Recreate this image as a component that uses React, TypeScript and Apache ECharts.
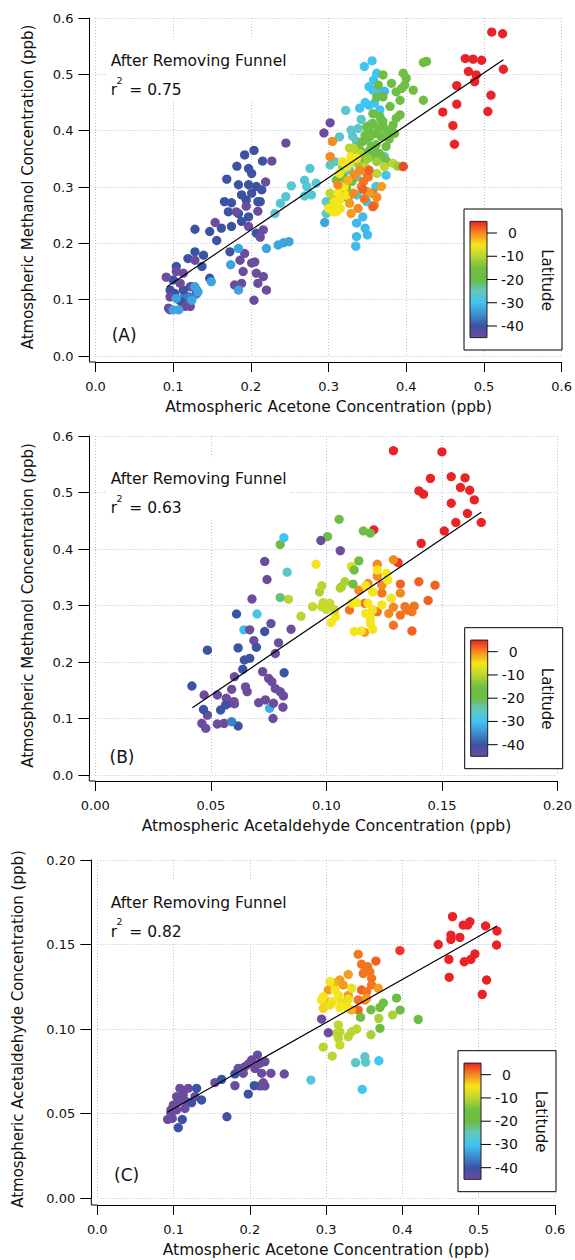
import React, { useEffect, useRef } from "react";
import * as echarts from "echarts";

const FONT = '"DejaVu Sans", Verdana, sans-serif';
const TXT = "#111";

// Latitude colour table, evenly spaced from -45 (bottom) to 5 (top)
const LAT_MIN = -45;
const LAT_MAX = 5;
const LAT_COLORS = [
  "#6b4c9d", "#3c53a4", "#3d8ed0", "#3fc5f0", "#63c7bf", "#6abd45",
  "#72bf44", "#bcd631", "#f5e51a", "#f58a1f", "#ea2327",
];
const COLORBAR_TICKS = [0, -10, -20, -30, -40];

const xTitles = [
  "Atmospheric Acetone Concentration (ppb)",
  "Atmospheric Acetaldehyde Concentration (ppb)",
  "Atmospheric Acetone Concentration (ppb)",
];
const yTitles = [
  "Atmospheric Methanol Concentration (ppb)",
  "Atmospheric Methanol Concentration (ppb)",
  "Atmospheric Acetaldehyde Concentration (ppb)",
];
const xMax = [0.6, 0.2, 0.6];
const xStep = [0.1, 0.05, 0.1];
const xDecimals = [1, 2, 1];
const yMax = [0.6, 0.6, 0.2];
const yStep = [0.1, 0.1, 0.05];
const yDecimals = [1, 1, 2];
const panelLabels = ["(A)", "(B)", "(C)"];
const r2Values = ["0.75", "0.63", "0.82"];
const noteText = "After Removing Funnel";

// [acetone, methanol, latitude]
const panelA: number[][] = [
  [0.510,0.575,5],[0.524,0.572,5],[0.476,0.528,5],[0.486,0.527,5],[0.497,0.525,5],[0.480,0.505,5],[0.490,0.499,5],[0.488,0.487,5],[0.525,0.509,5],[0.465,0.480,5],[0.465,0.447,5],[0.447,0.433,5],[0.460,0.409,5],[0.462,0.376,5],[0.505,0.434,5],[0.509,0.463,5],
  [0.107,0.100,-36],[0.115,0.108,-36],[0.121,0.105,-36],[0.130,0.110,-36],[0.118,0.095,-36],
  [0.204,0.365,-40],[0.192,0.357,-40],[0.182,0.337,-40],[0.197,0.333,-40],[0.201,0.324,-40],[0.169,0.314,-40],[0.184,0.304,-40],[0.197,0.304,-40],[0.207,0.301,-40],[0.201,0.289,-40],[0.188,0.286,-40],[0.166,0.274,-40],[0.175,0.272,-40],[0.194,0.277,-40],[0.209,0.274,-40],[0.184,0.253,-40],[0.197,0.247,-40],[0.171,0.256,-40],[0.188,0.239,-40],[0.162,0.227,-40],[0.175,0.230,-40],[0.147,0.221,-40],[0.128,0.225,-40],[0.156,0.205,-40],[0.207,0.218,-40],[0.173,0.185,-40],[0.128,0.185,-40],[0.139,0.179,-40],[0.119,0.173,-40],[0.104,0.159,-40],[0.137,0.159,-40],[0.147,0.138,-40],[0.096,0.117,-40],[0.122,0.123,-40],[0.113,0.117,-40],[0.215,0.346,-40],[0.214,0.295,-40],[0.212,0.274,-40],[0.100,0.135,-40],[0.111,0.096,-40],[0.102,0.111,-40],[0.130,0.117,-40],
  [0.181,0.256,-45],[0.194,0.266,-45],[0.209,0.257,-45],[0.154,0.237,-45],[0.197,0.230,-45],[0.128,0.170,-45],[0.113,0.147,-45],[0.192,0.182,-45],[0.205,0.167,-45],[0.186,0.170,-45],[0.190,0.150,-45],[0.207,0.147,-45],[0.201,0.165,-45],[0.091,0.140,-45],[0.104,0.150,-45],[0.109,0.129,-45],[0.124,0.123,-45],[0.096,0.105,-45],[0.094,0.085,-45],[0.115,0.088,-45],[0.122,0.088,-45],[0.179,0.126,-45],[0.188,0.129,-45],[0.204,0.099,-45],[0.209,0.129,-45],[0.227,0.346,-45],[0.245,0.378,-45],[0.219,0.309,-45],[0.216,0.224,-45],[0.212,0.211,-45],[0.216,0.141,-45],[0.220,0.117,-45],[0.096,0.082,-45],[0.302,0.414,-45],[0.294,0.396,-45],
  [0.184,0.191,-33],[0.174,0.162,-33],[0.149,0.132,-33],[0.132,0.114,-33],[0.128,0.123,-33],[0.104,0.102,-33],[0.124,0.099,-33],[0.107,0.082,-33],[0.184,0.117,-33],[0.220,0.191,-33],[0.235,0.197,-33],[0.242,0.201,-33],[0.249,0.203,-33],[0.100,0.082,-33],
  [0.252,0.302,-27],[0.245,0.283,-27],[0.238,0.271,-27],[0.231,0.253,-27],[0.269,0.312,-27],[0.276,0.333,-27],[0.272,0.301,-27],[0.278,0.286,-27],[0.269,0.284,-27],[0.284,0.307,-27],
  [0.356,0.524,-30],[0.346,0.514,-30],[0.362,0.502,-30],[0.358,0.490,-30],[0.352,0.478,-30],[0.357,0.472,-30],[0.359,0.449,-30],[0.366,0.437,-30],[0.368,0.419,-30],[0.374,0.342,-30],[0.374,0.321,-30],[0.355,0.289,-30],[0.349,0.292,-30],[0.336,0.286,-30],[0.349,0.274,-30],[0.344,0.247,-31],[0.336,0.236,-31],[0.347,0.227,-31],[0.350,0.215,-31],[0.336,0.212,-31],[0.335,0.195,-31],[0.295,0.237,-33],[0.361,0.301,-30],
  [0.340,0.440,-30],[0.352,0.445,-30],[0.347,0.450,-30],[0.365,0.470,-30],[0.372,0.470,-31],
  [0.322,0.436,-26],[0.329,0.401,-26],[0.338,0.404,-26],[0.336,0.381,-26],[0.349,0.384,-26],[0.302,0.339,-26],[0.308,0.345,-26],[0.327,0.330,-26],[0.336,0.318,-26],[0.297,0.274,-26],[0.323,0.312,-26],[0.372,0.354,-26],[0.314,0.389,-26],[0.379,0.401,-26],[0.297,0.253,-26],
  [0.342,0.420,-26],[0.355,0.412,-26],[0.331,0.390,-26],[0.360,0.395,-26],
  [0.422,0.521,-17],[0.426,0.523,-17],[0.370,0.499,-17],[0.381,0.484,-17],[0.396,0.502,-17],[0.400,0.493,-17],[0.398,0.481,-17],[0.394,0.475,-17],[0.387,0.469,-17],[0.364,0.481,-17],[0.370,0.460,-17],[0.409,0.472,-17],[0.422,0.454,-17],[0.392,0.454,-17],[0.362,0.460,-17],[0.379,0.443,-17],[0.392,0.428,-17],[0.387,0.422,-17],[0.370,0.416,-17],[0.357,0.413,-17],[0.349,0.407,-17],[0.364,0.404,-17],[0.377,0.398,-17],[0.353,0.389,-17],[0.344,0.381,-17],[0.361,0.375,-17],[0.351,0.363,-17],[0.358,0.354,-17],[0.368,0.354,-17],[0.396,0.337,-17],[0.340,0.366,-17],[0.332,0.360,-17],[0.319,0.318,-17],[0.310,0.312,-17],[0.314,0.301,-17],[0.323,0.298,-17],[0.318,0.289,-17],[0.306,0.277,-17],[0.344,0.348,-17],[0.355,0.372,-17],[0.338,0.372,-17],[0.368,0.389,-17],[0.374,0.372,-17],
  [0.357,0.430,-17],[0.366,0.425,-17],[0.352,0.400,-17],[0.362,0.395,-17],[0.371,0.405,-17],[0.383,0.410,-17],[0.347,0.392,-17],[0.358,0.365,-17],[0.365,0.360,-17],[0.378,0.385,-17],[0.385,0.395,-17],[0.342,0.355,-17],[0.375,0.345,-17],[0.330,0.310,-17],[0.325,0.280,-17],
  [0.327,0.369,-10],[0.332,0.369,-10],[0.340,0.360,-10],[0.347,0.336,-10],[0.372,0.336,-10],[0.383,0.342,-10],[0.362,0.324,-10],[0.306,0.274,-10],[0.302,0.289,-10],
  [0.350,0.350,-12],[0.337,0.342,-12],[0.362,0.345,-12],[0.389,0.337,-12],[0.318,0.335,-12],
  [0.329,0.354,-5],[0.323,0.336,-5],[0.314,0.324,-5],[0.310,0.256,-5],[0.304,0.262,-5],[0.308,0.274,-5],[0.336,0.351,-5],[0.327,0.342,-5],[0.314,0.277,-5],[0.312,0.289,-5],
  [0.318,0.345,-5],[0.320,0.300,-5],[0.306,0.256,-5],[0.300,0.262,-5],[0.323,0.285,-5],[0.315,0.262,-5],
  [0.305,0.381,0],[0.302,0.354,0],[0.312,0.304,0],[0.368,0.301,-1],[0.359,0.268,0],[0.329,0.253,-1],[0.349,0.324,0],[0.340,0.330,0],[0.357,0.289,1],[0.327,0.271,-1],[0.342,0.301,0],[0.351,0.318,1],[0.332,0.289,0],
  [0.333,0.322,0],[0.345,0.310,1],[0.338,0.262,0],[0.352,0.290,-1],[0.362,0.282,0],[0.325,0.312,-2],[0.346,0.279,1],
  [0.396,0.336,3],[0.352,0.330,2],[0.357,0.265,2],[0.344,0.296,2],
];
const fitA = [[0.092, 0.123], [0.525, 0.526]];

// [acetaldehyde, methanol, latitude]
const panelB: number[][] = [
  [0.129,0.574,5],[0.150,0.572,5],[0.145,0.525,5],[0.154,0.528,5],[0.160,0.526,5],[0.140,0.503,5],[0.142,0.497,5],[0.158,0.509,5],[0.162,0.504,5],[0.164,0.487,5],[0.154,0.481,5],[0.161,0.463,5],[0.156,0.447,5],[0.167,0.447,5],[0.151,0.432,5],[0.141,0.410,5],[0.1205,0.434,5],[0.131,0.376,4],
  [0.140,0.342,2],[0.147,0.336,2],[0.132,0.338,2],[0.144,0.309,2],[0.137,0.255,2],[0.129,0.265,1],[0.129,0.381,0],[0.138,0.299,1],[0.134,0.298,1],[0.122,0.373,0],[0.122,0.352,0],[0.124,0.322,1],[0.110,0.292,1],[0.122,0.289,1],[0.132,0.322,0],[0.127,0.286,0],[0.132,0.283,1],[0.129,0.297,0],[0.135,0.292,1],[0.137,0.289,1],[0.1165,0.304,1],[0.114,0.327,0],[0.1165,0.2525,-1],[0.118,0.339,0],[0.124,0.336,0],
  [0.0955,0.373,-5],[0.122,0.363,-5],[0.126,0.357,-5],[0.117,0.335,-5],[0.120,0.324,-5],[0.128,0.313,-5],[0.111,0.304,-5],[0.113,0.305,-5],[0.118,0.304,-5],[0.124,0.301,-5],[0.120,0.292,-5],[0.117,0.286,-5],[0.119,0.277,-5],[0.119,0.268,-5],[0.120,0.258,-5],[0.115,0.255,-5],[0.112,0.254,-5],[0.102,0.270,-5],[0.104,0.280,-5],[0.1108,0.369,-7],[0.1265,0.345,-5],
  [0.094,0.298,-9],[0.098,0.298,-9],[0.100,0.293,-9],[0.1015,0.304,-9],[0.0986,0.305,-9],[0.089,0.281,-10],[0.0836,0.311,-10],[0.097,0.324,-11],[0.098,0.335,-10],[0.1065,0.333,-11],[0.108,0.342,-11],[0.106,0.331,-11],[0.1036,0.292,-9],
  [0.1055,0.4525,-17],[0.1005,0.422,-17],[0.116,0.432,-17],[0.119,0.428,-17],[0.114,0.379,-17],[0.112,0.363,-17],[0.1115,0.338,-16],[0.080,0.408,-20],[0.080,0.314,-22],
  [0.083,0.359,-26],[0.0816,0.420,-30],[0.070,0.285,-29],[0.0643,0.257,-31],[0.0754,0.118,-32],
  [0.0976,0.415,-45],[0.106,0.397,-45],[0.0733,0.378,-45],[0.0743,0.346,-45],[0.0678,0.3115,-45],[0.076,0.268,-45],[0.0847,0.258,-45],[0.0668,0.257,-45],[0.0686,0.238,-45],[0.0793,0.234,-45],[0.0779,0.215,-45],[0.0724,0.183,-45],[0.0750,0.171,-45],[0.0764,0.165,-45],[0.0779,0.153,-45],[0.080,0.1475,-45],[0.0814,0.140,-45],[0.0812,0.120,-45],[0.0769,0.100,-45],[0.0707,0.128,-45],[0.0736,0.133,-45],[0.0771,0.127,-45],[0.0471,0.1416,-45],[0.0528,0.1416,-45],[0.0461,0.0914,-45],[0.0478,0.0826,-45],[0.0485,0.106,-45],[0.0528,0.0903,-45],[0.0557,0.0914,-45],[0.0590,0.1516,-45],[0.0602,0.174,-45],[0.0650,0.156,-45],[0.0657,0.1475,-45],[0.0567,0.136,-45],[0.0578,0.127,-45],[0.0600,0.130,-45],[0.0602,0.126,-45],
  [0.0611,0.285,-40],[0.0733,0.254,-40],[0.0618,0.225,-40],[0.0485,0.221,-40],[0.0697,0.226,-40],[0.0817,0.181,-40],[0.0668,0.2065,-40],[0.0645,0.2035,-40],[0.0638,0.187,-40],[0.0418,0.1575,-40],[0.0468,0.116,-40],[0.0542,0.115,-40],[0.0564,0.124,-40],[0.0618,0.0867,-40],[0.059,0.0944,-36],
];
const fitB = [[0.042, 0.119], [0.167, 0.465]];

// [acetone, acetaldehyde, latitude]
const panelC: number[][] = [
  [0.4657,0.1665,5],[0.4797,0.1615,5],[0.4884,0.1635,5],[0.4855,0.1615,5],[0.509,0.161,5],[0.524,0.158,5],[0.4635,0.1556,5],[0.4753,0.1542,5],[0.447,0.150,5],[0.4635,0.153,5],[0.5234,0.1497,5],[0.4609,0.1412,5],[0.481,0.1398,5],[0.4897,0.1412,5],[0.495,0.1444,5],[0.4613,0.1306,5],[0.5103,0.129,5],[0.5046,0.1205,5],[0.3967,0.1464,4],
  [0.342,0.1442,1],[0.3652,0.1402,2],[0.3464,0.1383,1],[0.3543,0.1369,1],[0.3486,0.1329,1],[0.3573,0.1339,1],[0.3595,0.130,1],[0.3464,0.1231,2],[0.353,0.1221,1],[0.342,0.1172,1],[0.3508,0.1172,1],[0.3595,0.1260,1],[0.342,0.1112,2],
  [0.329,0.1323,-1],[0.318,0.129,-1],[0.3115,0.1274,-2],[0.3028,0.1231,-1],[0.3224,0.1260,-1],[0.3683,0.1241,-1],[0.353,0.1181,-1],[0.2984,0.1172,-2],[0.329,0.1199,-1],[0.3333,0.1112,-2],
  [0.305,0.1280,-5],[0.2962,0.1191,-5],[0.294,0.1172,-5],[0.3115,0.1231,-5],[0.316,0.1199,-5],[0.308,0.1162,-5],[0.3202,0.1162,-6],[0.329,0.1176,-6],[0.3333,0.1241,-6],[0.318,0.1128,-5],[0.2962,0.1122,-4],[0.3268,0.1132,-5],[0.305,0.1142,-6],
  [0.316,0.1024,-10],[0.3137,0.0974,-10],[0.318,0.0984,-10],[0.316,0.0945,-10],[0.329,0.0955,-10],[0.3333,0.0984,-10],[0.3399,0.100,-10],[0.2962,0.0893,-10],[0.308,0.084,-10],[0.3587,0.0966,-11],[0.369,0.1063,-11],[0.3871,0.1083,-11],[0.318,0.0905,-9],
  [0.3451,0.1069,-16],[0.3587,0.1114,-17],[0.3705,0.1128,-17],[0.375,0.1154,-17],[0.3923,0.1183,-17],[0.397,0.1112,-17],[0.4207,0.1057,-17],[0.3705,0.1004,-17],
  [0.3508,0.0836,-26],[0.3386,0.0801,-26],[0.3517,0.0803,-26],[0.28,0.0698,-27],
  [0.3691,0.0812,-30],[0.3473,0.0643,-30],
  [0.294,0.1059,-45],[0.3028,0.0978,-45],[0.2451,0.0734,-45],[0.2276,0.0738,-45],[0.21,0.0846,-45],[0.2023,0.0817,-45],[0.2132,0.0797,-45],[0.1935,0.0777,-45],[0.1848,0.0767,-45],[0.1913,0.0738,-45],[0.198,0.0793,-45],[0.2066,0.0767,-45],[0.2197,0.0807,-45],[0.2154,0.0738,-45],[0.1804,0.0665,-45],[0.2176,0.0682,-45],[0.2132,0.0663,-45],[0.2197,0.0663,-45],[0.1542,0.0683,-45],[0.1083,0.0649,-45],[0.1192,0.0649,-45],[0.104,0.060,-45],[0.1127,0.0610,-45],[0.1061,0.0570,-45],[0.117,0.0570,-45],[0.128,0.060,-45],[0.0996,0.0550,-45],[0.0965,0.0521,-45],[0.104,0.0521,-45],[0.1149,0.0530,-45],[0.0922,0.0465,-45],[0.0983,0.0471,-45],[0.0965,0.0501,-45],
  [0.1302,0.0649,-40],[0.1367,0.0580,-40],[0.1236,0.0564,-40],[0.163,0.0702,-40],[0.1804,0.0734,-40],[0.2058,0.0665,-40],[0.1979,0.0615,-40],[0.1114,0.0465,-40],[0.1061,0.0416,-40],[0.1699,0.0481,-40],
];
const fitC = [[0.0917, 0.0507], [0.524, 0.161]];

const panelData = [panelA, panelB, panelC];
const panelFits = [fitA, fitB, fitC];

// layout (pixels)
const grids = [
  { left: 95.5, top: 18, width: 466.5, height: 338 },
  { left: 95.3, top: 436, width: 465.7, height: 339 },
  { left: 97.3, top: 860, width: 457.7, height: 338 },
];
const xOffsets = [6, 6, 7];
const yOffsets = [6, 6, 6];
const yNameGaps = [54, 54, 66];
const noteY = [61, 479.3, 902.7];
const labelPos = [[111.7, 335], [109.5, 756.7], [114, 1175]];
const cbPos = [[464, 209], [464.7, 627.7], [458, 1050.7]];

function colorbar(left: number, top: number): any[] {
  const els: any[] = [];
  const top2bottom = LAT_COLORS.slice().reverse();
  const stops = top2bottom.map((c, i) => ({ offset: i / (top2bottom.length - 1), color: c }));
  els.push({ type: "rect", z: 20, shape: { x: left, y: top, width: 98, height: 141 }, style: { fill: "#fff", stroke: "#000", lineWidth: 1 } });
  const ppu = 93 / 40;
  const y0 = top + 24;
  const barTop = y0 - (LAT_MAX - 0) * ppu;
  const barBottom = y0 + (0 - LAT_MIN) * ppu;
  els.push({
    type: "rect", z: 21,
    shape: { x: left + 6, y: barTop, width: 17, height: barBottom - barTop },
    style: { fill: new echarts.graphic.LinearGradient(0, 0, 0, 1, stops), stroke: "#222", lineWidth: 1 },
  });
  COLORBAR_TICKS.forEach((t) => {
    const y = y0 + (0 - t) * ppu;
    els.push({ type: "line", z: 21, shape: { x1: left + 23, y1: y, x2: left + 33, y2: y }, style: { stroke: "#000", lineWidth: 1 } });
    els.push({ type: "text", z: 21, x: left + 48.5, y, style: { text: String(t), align: "center", verticalAlign: "middle", fontSize: 14, fontFamily: FONT, fill: TXT } });
  });
  els.push({ type: "text", z: 21, x: left + 82.7, y: top + 71, rotation: -Math.PI / 2, style: { text: "Latitude", align: "center", verticalAlign: "middle", fontSize: 15, fontFamily: FONT, fill: TXT } });
  return els;
}

export default function App() {
  const ref = useRef<HTMLDivElement>(null);
  useEffect(() => {
    document.body.style.margin = "0";
    const chart = echarts.init(ref.current!, null, { renderer: "svg" });
    const axisLine = { show: true, onZero: false, lineStyle: { color: "#000", width: 1 } };
    const splitLine = { show: true, lineStyle: { color: "#bdbde6", width: 1, type: [1, 2] } };

    const xAxis = grids.map((_, i) => ({
      type: "value", gridIndex: i, min: 0, max: xMax[i], interval: xStep[i], offset: xOffsets[i],
      axisLine, axisTick: { show: true, inside: false, length: 10, lineStyle: { color: "#000" } },
      axisLabel: { margin: 18, fontSize: 13, fontFamily: FONT, color: TXT, formatter: (v: number) => v.toFixed(xDecimals[i]) },
      splitLine,
      name: xTitles[i], nameLocation: "middle", nameGap: 37,
      nameTextStyle: { fontSize: 15.5, fontFamily: FONT, color: TXT },
    }));
    const yAxis = grids.map((_, i) => ({
      type: "value", gridIndex: i, min: 0, max: yMax[i], interval: yStep[i], offset: yOffsets[i],
      axisLine, axisTick: { show: true, inside: false, length: 11, lineStyle: { color: "#000" } },
      axisLabel: { margin: 16, fontSize: 13, fontFamily: FONT, color: TXT, formatter: (v: number) => v.toFixed(yDecimals[i]) },
      splitLine,
      name: yTitles[i], nameLocation: "middle", nameGap: yNameGaps[i],
      nameTextStyle: { fontSize: 15, fontFamily: FONT, color: TXT },
    }));

    const series: any[] = [];
    panelData.forEach((d, i) => {
      series.push({ type: "scatter", xAxisIndex: i, yAxisIndex: i, data: d, symbolSize: 9.3, itemStyle: { opacity: 1 }, z: 2 });
      series.push({ type: "line", xAxisIndex: i, yAxisIndex: i, data: panelFits[i], symbol: "none", silent: true, lineStyle: { color: "#000", width: 1.2 }, z: 5 });
    });

    const graphic: any[] = [];
    grids.forEach((g, i) => {
      const bottom = g.top + g.height;
      const yx = g.left - yOffsets[i];
      const xy = bottom + xOffsets[i];
      graphic.push({ type: "line", shape: { x1: yx, y1: bottom, x2: yx, y2: xy }, style: { stroke: "#000", lineWidth: 1 } });
      graphic.push({ type: "line", shape: { x1: yx, y1: xy, x2: g.left, y2: xy }, style: { stroke: "#000", lineWidth: 1 } });
      const ty = noteY[i];
      graphic.push({ type: "rect", z: 1, shape: { x: 106, y: ty - 22, width: 184, height: 62 }, style: { fill: "#fff" } });
      graphic.push({ type: "text", z: 10, x: 110.7, y: ty, style: { text: noteText, align: "left", verticalAlign: "middle", fontSize: 15.5, fontFamily: FONT, fill: TXT } });
      graphic.push({ type: "text", z: 10, x: 110.7, y: ty + 29, style: { text: "r", align: "left", verticalAlign: "middle", fontSize: 15.5, fontFamily: FONT, fill: TXT } });
      graphic.push({ type: "text", z: 10, x: 116.5, y: ty + 19, style: { text: "2", align: "left", verticalAlign: "middle", fontSize: 9.5, fontFamily: FONT, fill: TXT } });
      graphic.push({ type: "text", z: 10, x: 129.3, y: ty + 29, style: { text: "= " + r2Values[i], align: "left", verticalAlign: "middle", fontSize: 15.5, fontFamily: FONT, fill: TXT } });
      graphic.push({ type: "text", z: 10, x: labelPos[i][0], y: labelPos[i][1], style: { text: panelLabels[i], align: "left", verticalAlign: "middle", fontSize: 17, fontFamily: FONT, fill: TXT } });
      colorbar(cbPos[i][0], cbPos[i][1]).forEach((e) => graphic.push(e));
    });

    chart.setOption({
      animation: false,
      backgroundColor: "#fff",
      grid: grids.map((g) => ({ ...g, containLabel: false })),
      xAxis,
      yAxis,
      visualMap: [{ type: "continuous", show: false, min: LAT_MIN, max: LAT_MAX, dimension: 2, seriesIndex: [0, 2, 4], inRange: { color: LAT_COLORS } }],
      series,
      graphic,
    });
    return () => chart.dispose();
  }, []);
  return <div ref={ref} style={{ width: 575, height: 1260 }} />;
}
